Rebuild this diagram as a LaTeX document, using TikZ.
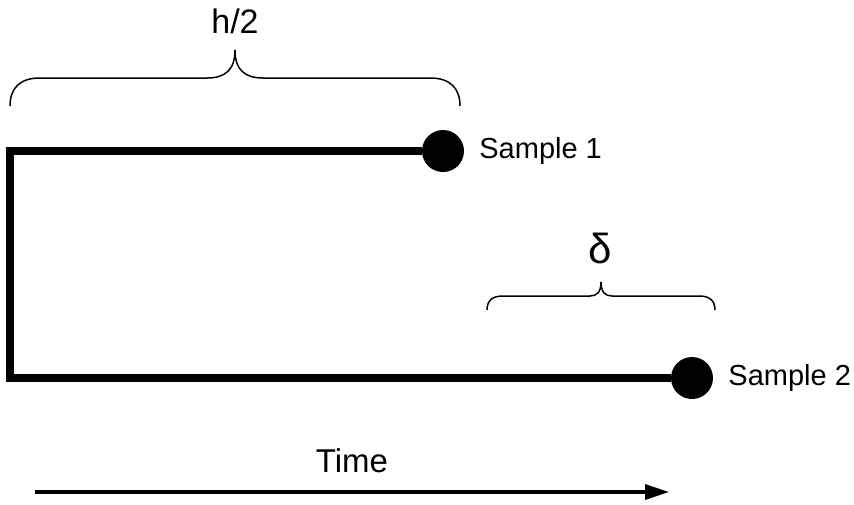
\documentclass[tikz,border=0pt]{standalone}
\usepackage{fontspec}
\setmainfont{Liberation Sans}
\usetikzlibrary{positioning,arrows.meta}

\begin{document}
\begin{tikzpicture}[x = 1pt, y = -1pt,
		dot/.style = {circle, fill = black, inner sep = 0pt, minimum size = 42pt},
		branch/.style = {line width = 8pt, miter limit = 4},
		bracket/.style = {line width = 1.5pt},
		samplelabel/.style = {inner sep = 0pt, font = \fontsize{29}{34}\selectfont},
		bigtext/.style = {inner sep = 0pt, font = \fontsize{34}{40}\selectfont}]
		\useasboundingbox (0,0) rectangle (854,504);
		% the two samples and the branch that joins them
		\node[dot] (dot1) at (443,151) {};
		\node[dot] (dot2) at (692,378) {};
		\coordinate (corner1) at (10,151);
		\coordinate (corner2) at (10,378);
		\draw[branch] (dot1.west) -- (corner1) -- (corner2) -- (dot2.west);
		\node[samplelabel, right = 15pt of dot1] (lab1) {Sample 1};
		\node[samplelabel, right = 15pt of dot2] (lab2) {Sample 2};
		% braces
		\draw[bracket] (10,106) .. controls (10,88) and (20,78) .. (40,78) -- (207,78) .. controls (225,78) and (235,70) .. (235,50) .. controls (235,70) and (245,78) .. (263,78) -- (430,78) .. controls (450,78) and (460,88) .. (460,106);
		\draw[bracket] (487,310) .. controls (487,300) and (493,296) .. (503,296) -- (590,296) .. controls (597,296) and (601,292) .. (601,282) .. controls (601,292) and (605,296) .. (612,296) -- (699,296) .. controls (709,296) and (715,300) .. (715,310);
		\node[bigtext, anchor = base] (half) at (235,33) {h/2};
		\node[bigtext, anchor = base, font = \fontsize{42}{48}\selectfont] (delta) at (600,263) {δ};
		% time axis
		\coordinate (t0) at (35,492);
		\coordinate (t1) at (669,492);
		\draw[line width = 3.5pt, -{Triangle[length = 24pt, width = 15pt]}] (t0) -- (t1);
		\node[bigtext, anchor = base, font = \fontsize{33}{40}\selectfont] (time) at (352,472) {Time};
	\end{tikzpicture}
\end{document}
